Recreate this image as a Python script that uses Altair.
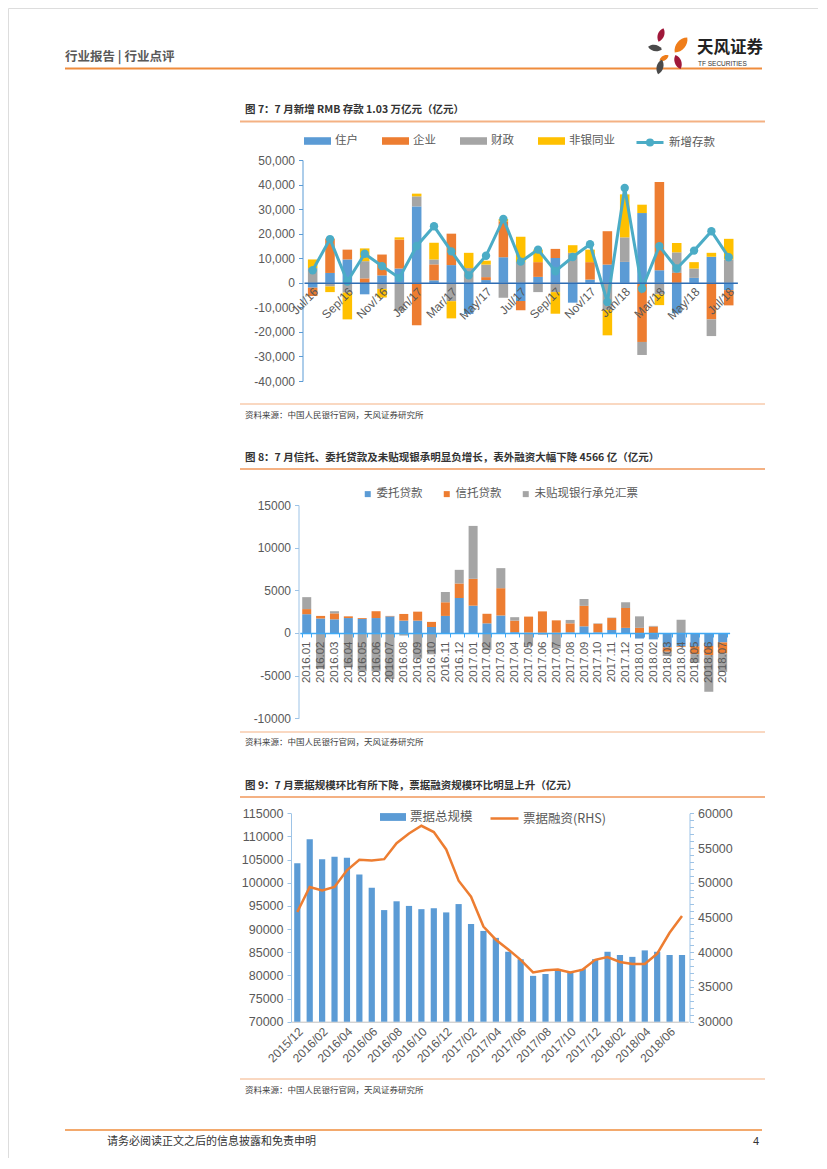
import altair as alt
import pandas as pd

FONT = "Noto Sans CJK SC"
NUMFONT = "Liberation Sans"
W, H = 810, 1150

# ---------------- Figure 7 data ----------------
months7 = ["Jul/16", "Aug/16", "Sep/16", "Oct/16", "Nov/16", "Dec/16", "Jan/17", "Feb/17",
           "Mar/17", "Apr/17", "May/17", "Jun/17", "Jul/17", "Aug/17", "Sep/17", "Oct/17",
           "Nov/17", "Dec/17", "Jan/18", "Feb/18", "Mar/18", "Apr/18", "May/18", "Jun/18", "Jul/18"]
series7 = ["住户", "企业", "财政", "非银同业"]
colors7 = ["#5b9bd5", "#ed7d31", "#a5a5a5", "#ffc000"]
household = [-2000, 4000, 9500, -4700, 3000, 5800, 31100, 1000, 7200, -12700, 1100, 10400, -7400,
             2400, 10100, -8100, 1300, 7400, 8500, 28400, 5100, -12400, 2000, 10600, -3000]
corporate = [-3400, 14000, 4000, 1800, 8500, 11800, -17300, 6500, 12800, 0, 1200, 14600, -3800,
             6000, 3700, 0, 7100, 13600, 0, -24100, 35900, 4000, 0, -14900, -6200]
fiscal = [6000, -1500, -4000, 7000, -2500, -11500, 4100, 2000, -7500, 6000, 5100, -6100, 8500,
          -3800, -3800, 12200, 0, -11000, 10000, -5300, -4700, 8400, 3800, -6800, 9500]
nonbank = [3500, -2300, -10900, 5200, -3500, 900, 1100, 6800, -7000, 6200, 1600, 1000, 10200,
           5100, -8800, 3100, 5100, -10400, 17500, 3400, -4400, 3800, 2600, 1600, 8400]
line7_name = "新增存款"
new_deposits = [5100, 17800, 500, 11800, 6800, 2000, 15000, 23000, 12800, 3000, 11000, 26000, 8600,
                13500, 4700, 10500, 15700, -7800, 38600, -2400, 14900, 5800, 13100, 21000, 10400]

# ---------------- Figure 8 data ----------------
months8 = ["2016.01", "2016.02", "2016.03", "2016.04", "2016.05", "2016.06", "2016.07", "2016.08",
           "2016.09", "2016.10", "2016.11", "2016.12", "2017.01", "2017.02", "2017.03", "2017.04",
           "2017.05", "2017.06", "2017.07", "2017.08", "2017.09", "2017.10", "2017.11", "2017.12",
           "2018.01", "2018.02", "2018.03", "2018.04", "2018.05", "2018.06", "2018.07"]
series8 = ["委托贷款", "信托贷款", "未贴现银行承兑汇票"]
colors8 = ["#5b9bd5", "#ed7d31", "#a5a5a5"]
entrusted = [2200, 1700, 1600, 1750, 1650, 1750, 1950, 1450, 1450, 700, 2000, 4100, 3200, 1130,
             2050, 100, 50, 30, 30, 80, 780, 80, 350, 600, -650, -750, -1700, -1550, -1570, -1520, -1110]
trust = [600, 300, 700, 200, 100, 800, 50, 780, 1050, 600, 1600, 1700, 3150, 1120, 3200, 1350,
         1870, 2500, 1450, 1050, 2400, 1000, 1400, 2330, 600, 750, -500, -100, -900, -1070, -1280]
undiscounted = [1400, -4200, 250, -4000, -4500, -4500, -5400, -300, -3000, -2500, 1200, 1600, 6200,
                -2000, 2350, 400, -1500, -200, -1800, 400, 800, 50, 50, 670, 1350, 80, -500, 1550,
                -1030, -4300, -2170]

# ---------------- Figure 9 data ----------------
months9 = ["2015/12", "2016/01", "2016/02", "2016/03", "2016/04", "2016/05", "2016/06", "2016/07",
           "2016/08", "2016/09", "2016/10", "2016/11", "2016/12", "2017/01", "2017/02", "2017/03",
           "2017/04", "2017/05", "2017/06", "2017/07", "2017/08", "2017/09", "2017/10", "2017/11",
           "2017/12", "2018/01", "2018/02", "2018/03", "2018/04", "2018/05", "2018/06", "2018/07"]
bar9_name = "票据总规模"
line9_name = "票据融资(RHS)"
bill_total = [104200, 109400, 105100, 105600, 105400, 101800, 98900, 94100, 96000, 95000, 94300,
              94500, 93600, 95400, 91100, 89600, 88100, 85100, 83500, 79900, 80300, 81300, 80800,
              81400, 83500, 85100, 84400, 84000, 85400, 85100, 84400, 84400]
bill_finance = [45800, 49400, 48900, 49400, 51800, 53300, 53200, 53400, 55700, 57100, 58200, 57300,
                54800, 50300, 48000, 43700, 41800, 40400, 38900, 37100, 37400, 37500, 37100, 37500,
                38900, 39300, 38600, 38300, 38300, 39800, 42800, 45200]


def P(v):
    """page pixel -> canvas pixel"""
    return v - 8


def lin(v, d0, d1, r0, r1):
    return r0 + (v - d0) / (d1 - d0) * (r1 - r0)


GRAY = "#595959"

# ================= Figure 7 =================
rows7 = []
for i, m in enumerate(months7):
    for k, (s, vals) in enumerate(zip(series7, [household, corporate, fiscal, nonbank])):
        rows7.append({"month": m, "series": s, "value": vals[i], "k": k})
df7 = pd.DataFrame(rows7)
dfl7 = pd.DataFrame({"month": months7, "value": new_deposits, "name": line7_name})

y7_dom = [-40000, 50000]
y7_rng = [P(381), P(160)]
zero7 = lin(0, y7_dom[0], y7_dom[1], *y7_rng)

x7 = alt.X("month:N", title=None,
           scale=alt.Scale(domain=months7, range=[P(304), P(737.4)], paddingInner=0.45, paddingOuter=0.225),
           axis=alt.Axis(orient="bottom", offset=zero7 - H, values=months7[::2], labelAngle=-45,
                         labelFont=NUMFONT, labelFontSize=12, labelColor=GRAY, labelPadding=3,
                         ticks=False, domainColor="#2e6db4", domainWidth=1.5, zindex=1,
                         labelOverlap=False))
y7 = alt.Y("value:Q", title=None, stack="zero",
           scale=alt.Scale(domain=y7_dom, range=y7_rng, nice=False, zero=False),
           axis=alt.Axis(orient="left", offset=-P(302.5), values=list(range(-40000, 50001, 10000)),
                         labelExpr="(datum.value < 0 ? '-' : '') + format(abs(datum.value), ',')",
                         grid=False, domainColor="#5b9bd5", tickColor="#5b9bd5", tickSize=4,
                         labelPadding=4, labelFont=NUMFONT, labelFontSize=12, labelColor=GRAY))

bars7 = alt.Chart(df7).mark_bar().encode(
    x=x7, y=y7,
    color=alt.Color("series:N", scale=alt.Scale(domain=series7, range=colors7),
                    legend=alt.Legend(title=None, orient="none", legendX=P(304), legendY=P(141) - 13.5,
                                      direction="horizontal", symbolType="M-1,-0.28H1V0.28H-1Z",
                                      symbolSize=729, symbolStrokeWidth=0, labelFont=FONT,
                                      labelFontSize=11.5, labelColor=GRAY, labelOffset=4,
                                      columnPadding=24)),
    order=alt.Order("k:Q"))
line7 = alt.Chart(dfl7).mark_line(strokeWidth=3).encode(
    x=alt.X("month:N"), y=alt.Y("value:Q"),
    stroke=alt.Stroke("name:N", scale=alt.Scale(domain=[line7_name], range=["#4bacc6"]),
                      legend=alt.Legend(title=None, orient="none", legendX=P(635), legendY=P(141) - 13.5,
                                        direction="horizontal",
                                        symbolType="M-1,0L1,0M0.19,0A0.19,0.19,0,1,1,-0.19,0A0.19,0.19,0,1,1,0.19,0",
                                        symbolSize=729, symbolStrokeWidth=3, labelFont=FONT,
                                        labelFontSize=11.5, labelColor=GRAY, labelOffset=4)))
pts7 = alt.Chart(dfl7).mark_point(filled=True, size=70, color="#4bacc6", opacity=1).encode(
    x=alt.X("month:N"), y=alt.Y("value:Q"))
fig7 = alt.layer(bars7, line7, pts7)

# ================= Figure 8 =================
rows8 = []
for i, m in enumerate(months8):
    for k, (s, vals) in enumerate(zip(series8, [entrusted, trust, undiscounted])):
        rows8.append({"month": m, "series": s, "value": vals[i], "k": k})
df8 = pd.DataFrame(rows8)
y8_dom = [-10000, 15000]
y8_rng = [P(718.3), P(505)]
zero8 = lin(0, y8_dom[0], y8_dom[1], *y8_rng)

bars8 = alt.Chart(df8).mark_bar().encode(
    x=alt.X("month:N", title=None,
            scale=alt.Scale(domain=months8, range=[P(299.8), P(729.6)], paddingInner=0.35, paddingOuter=0.175),
            axis=alt.Axis(orient="bottom", offset=zero8 - H, labelAngle=-90, labelFont=NUMFONT,
                          labelFontSize=11.5, labelColor=GRAY, labelPadding=4, tickBand="extent",
                          tickSize=4, tickColor="#3fa9f5", domainColor="#3fa9f5", domainWidth=1.5,
                          zindex=1, labelOverlap=False)),
    y=alt.Y("value:Q", title=None, stack="zero",
            scale=alt.Scale(domain=y8_dom, range=y8_rng, nice=False, zero=False),
            axis=alt.Axis(orient="left", offset=-P(298.5), values=list(range(-10000, 15001, 5000)),
                          labelExpr="(datum.value < 0 ? '-' : '') + format(abs(datum.value), 'd')",
                          grid=False, domainColor="#9dc3e6", tickColor="#9dc3e6", tickSize=4,
                          labelPadding=4, labelFont=NUMFONT, labelFontSize=12, labelColor=GRAY)),
    color=alt.Color("series:N", scale=alt.Scale(domain=series8, range=colors8),
                    legend=alt.Legend(title=None, orient="none", legendX=P(362), legendY=P(491) - 3,
                                      direction="horizontal", symbolType="square", symbolSize=36,
                                      symbolStrokeWidth=0, labelFont=FONT, labelFontSize=11.5,
                                      labelColor=GRAY, labelOffset=3, columnPadding=18)),
    order=alt.Order("k:Q"))
fig8 = bars8

# ================= Figure 9 =================
df9 = pd.DataFrame({"month": months9, "total": bill_total, "finance": bill_finance,
                    "bname": bar9_name, "lname": line9_name})
y9_rng = [P(1021.7), P(813.3)]
bars9 = alt.Chart(df9).mark_bar().encode(
    x=alt.X("month:N", title=None,
            scale=alt.Scale(domain=months9, range=[P(291.1), P(688.2)], paddingInner=0.5, paddingOuter=0.25),
            axis=alt.Axis(orient="bottom", offset=y9_rng[0] - H, values=months9[::2], labelAngle=-45,
                          labelFont=NUMFONT, labelFontSize=12, labelColor=GRAY, labelPadding=4,
                          ticks=False, domainColor="#bfbfbf", labelOverlap=False)),
    y=alt.Y("total:Q", title=None,
            scale=alt.Scale(domain=[70000, 115000], range=y9_rng, nice=False, zero=False),
            axis=alt.Axis(orient="left", offset=-P(291), values=list(range(70000, 115001, 5000)),
                          grid=False, domainColor="#9dc3e6", tickColor="#9dc3e6", tickSize=4,
                          labelPadding=4, labelFont=NUMFONT, labelFontSize=12.5, labelColor=GRAY,
                          format="d")),
    y2=alt.datum(70000),
    color=alt.Color("bname:N", scale=alt.Scale(domain=[bar9_name], range=["#5b9bd5"]),
                    legend=alt.Legend(title=None, orient="none", legendX=P(380), legendY=P(817) - 13,
                                      direction="horizontal", symbolType="M-1,-0.3H1V0.3H-1Z",
                                      symbolSize=676, symbolStrokeWidth=0, labelFont=FONT,
                                      labelFontSize=12.5, labelColor=GRAY, labelOffset=4)))
line9 = alt.Chart(df9).mark_line(strokeWidth=2.5).encode(
    x=alt.X("month:N"),
    y=alt.Y("finance:Q", title=None,
            scale=alt.Scale(domain=[30000, 60000], range=y9_rng, nice=False, zero=False),
            axis=alt.Axis(orient="right", offset=P(689.5) - W, values=list(range(30000, 60001, 1000)),
                          labelExpr="datum.value % 5000 === 0 ? format(datum.value, 'd') : ''",
                          grid=False, domainColor="#9dc3e6", tickColor="#9dc3e6", tickSize=4,
                          labelPadding=4, labelFont=NUMFONT, labelFontSize=12.5, labelColor=GRAY)),
    stroke=alt.Stroke("lname:N", scale=alt.Scale(domain=[line9_name], range=["#ed7d31"]),
                      legend=alt.Legend(title=None, orient="none", legendX=P(489), legendY=P(817) - 14,
                                        direction="horizontal", symbolType="stroke", symbolSize=784,
                                        symbolStrokeWidth=2.5, labelFont=FONT, labelFontSize=12.5,
                                        labelColor=GRAY, labelOffset=3)))
fig9 = alt.layer(bars9, line9).resolve_scale(y="independent")

# ================= page decorations =================
ONE = alt.Data(values=[{}])


def txt(s, x, y, size, color="#333333", weight="normal", font=FONT, align="left"):
    return alt.Chart(ONE).mark_text(text=s, font=font, fontSize=size, fontWeight=weight, color=color,
                                    align=align, baseline="middle").encode(
        x=alt.value(P(x)), y=alt.value(P(y)))


def hline(x1, x2, y, color, w):
    return alt.Chart(ONE).mark_rule(color=color, strokeWidth=w).encode(
        x=alt.value(P(x1)), x2=alt.value(P(x2)), y=alt.value(P(y)))


LEAF = "M0,-1C0.6,-0.5,0.6,0.5,0,1C-0.6,0.5,-0.6,-0.5,0,-1Z"


def petal(x, y, size, angle, color):
    return alt.Chart(ONE).mark_point(shape=LEAF, filled=True, opacity=1, color=color, size=size,
                                     angle=angle).encode(x=alt.value(P(x)), y=alt.value(P(y)))


ORANGE = "#ef8c3c"
LIGHT = "#f4b183"
SRC = "资料来源：中国人民银行官网，天风证券研究所"

decor = [
    txt("行业报告 | 行业点评", 65, 57, 12.5, "#595959", "bold"),
    hline(65, 762, 68.5, ORANGE, 2),
    petal(661, 35, 200, 20, "#a0183a"),
    petal(681, 45, 380, 40, "#ef7d1a"),
    petal(655, 48, 200, 100, "#4a4a4a"),
    petal(664, 58, 110, 60, "#ef7d1a"),
    petal(678, 62, 220, 160, "#a0183a"),
    petal(660, 67, 220, 15, "#4a4a4a"),
    txt("天风证券", 697, 48, 16.5, "#222222", "bold"),
    txt("TF SECURITIES", 698, 64, 6.5, "#333333", "normal", NUMFONT),
    # figure 7
    txt("图 7：7 月新增 RMB 存款 1.03 万亿元（亿元）", 245, 110, 10.5, "#333333", "bold"),
    hline(240, 765, 121.5, LIGHT, 2),
    hline(240, 765, 404, LIGHT, 1),
    txt(SRC, 245, 415, 8.5, "#404040"),
    # figure 8
    txt("图 8：7 月信托、委托贷款及未贴现银承明显负增长，表外融资大幅下降 4566 亿（亿元）", 245, 458, 10.5,
        "#333333", "bold"),
    hline(240, 765, 469, LIGHT, 2),
    hline(240, 765, 732, LIGHT, 1),
    txt(SRC, 245, 742, 8.5, "#404040"),
    # figure 9
    txt("图 9：7 月票据规模环比有所下降，票据融资规模环比明显上升（亿元）", 245, 786, 10.5, "#333333", "bold"),
    hline(240, 765, 797, LIGHT, 2),
    hline(240, 765, 1079, LIGHT, 1),
    txt(SRC, 245, 1090, 8.5, "#404040"),
    # footer
    hline(65, 762, 1130, ORANGE, 1.5),
    txt("请务必阅读正文之后的信息披露和免责申明", 107, 1142, 11, "#333333"),
    txt("4", 753, 1142, 11, "#333333", "normal", NUMFONT),
]

chart = alt.layer(fig7, fig8, fig9, *decor).resolve_scale(
    x="independent", y="independent", color="independent", stroke="independent"
).properties(
    width=W, height=H, autosize=alt.AutoSizeParams(type="none"), padding=0
).configure_view(stroke=None).configure(background="white")

chart.save("out.html", embed_options={"renderer": "svg", "actions": False})
